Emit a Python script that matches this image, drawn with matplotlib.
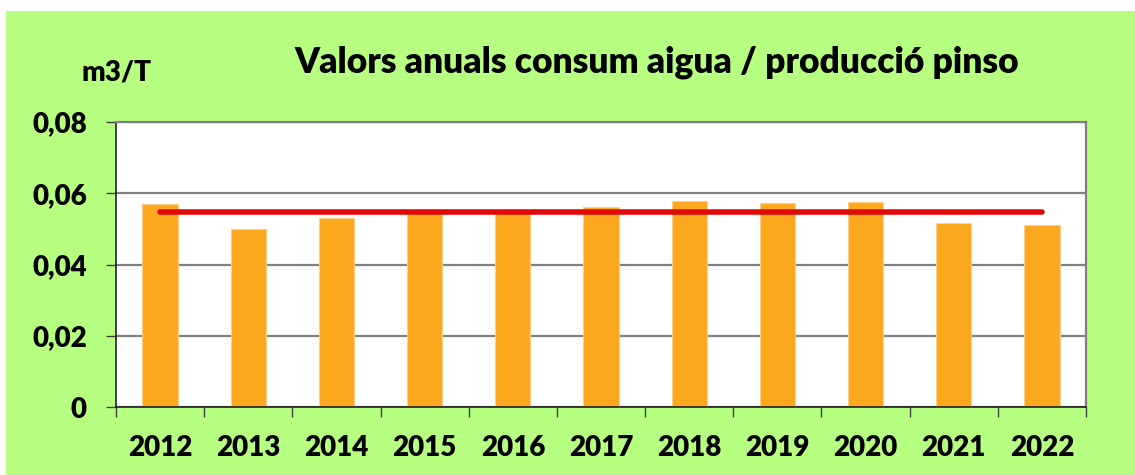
import matplotlib
matplotlib.use("Agg")
import matplotlib.pyplot as plt
from matplotlib.patches import Rectangle
import numpy as np

# dades
anys = ['2012', '2013', '2014', '2015', '2016', '2017', '2018', '2019', '2020', '2021', '2022']
consum = [0.0570, 0.0500, 0.0530, 0.0550, 0.0549, 0.0562, 0.0579, 0.0572, 0.0576, 0.0516, 0.0511]
mitjana = [0.0546] * len(anys)
y_ticks = [0, 0.02, 0.04, 0.06, 0.08]
y_labels = ['0', '0,02', '0,04', '0,06', '0,08']

plt.rcParams['font.family'] = ['Lato', 'DejaVu Sans']

fig = plt.figure(figsize=(11.35, 4.75), dpi=100)
fig.patch.set_facecolor('white')
# fons verd
fons = Rectangle((6 / 1135, 0), 1, 1 - 11 / 475, transform=fig.transFigure,
                 facecolor='#b6ff80', edgecolor='none', zorder=-10)
fig.add_artist(fons)

ax = fig.add_axes([116 / 1135, 1 - 407 / 475, 970 / 1135, 285 / 475])
ax.set_zorder(5)
ax.set_facecolor('white')

x = np.arange(len(anys))
ax.bar(x, consum, width=0.4, color='#fba81e', edgecolor='#fdd08a', linewidth=0.8, zorder=2)
ax.plot(x, mitjana, color='#e00808', linewidth=4, solid_capstyle='round', zorder=3)

ax.set_xlim(-0.5, len(anys) - 0.5)
ax.set_ylim(0, 0.08)
ax.set_yticks(y_ticks)
ax.set_yticklabels(y_labels, fontsize=20, fontweight='heavy')
ax.set_xticks(x)
ax.set_xticklabels(anys, fontsize=20, fontweight='heavy')
ax.tick_params(axis='x', length=0, pad=20)
ax.tick_params(axis='y', length=7, width=1, color='#404040', pad=14)
# marques entre categories
ax.set_xticks(np.arange(len(anys) + 1) - 0.5, minor=True)
ax.tick_params(axis='x', which='minor', length=7, width=1, color='#404040')

ax.grid(axis='y', color='#808080', linewidth=1.6, zorder=1)
ax.set_axisbelow(True)
for s in ['top', 'right']:
    ax.spines[s].set_color('#808080')
    ax.spines[s].set_linewidth(1.6)
for s in ['left', 'bottom']:
    ax.spines[s].set_color('#202020')
    ax.spines[s].set_linewidth(1.2)

fig.text(657 / 1135, 1 - 62 / 475, 'Valors anuals consum aigua / producció pinso',
         ha='center', va='center', fontsize=25.5, fontweight='heavy')
fig.text(117 / 1135, 1 - 72 / 475, 'm3/T', ha='center', va='center',
         fontsize=20, fontweight='heavy')

fig.savefig('out.png', dpi=100)
